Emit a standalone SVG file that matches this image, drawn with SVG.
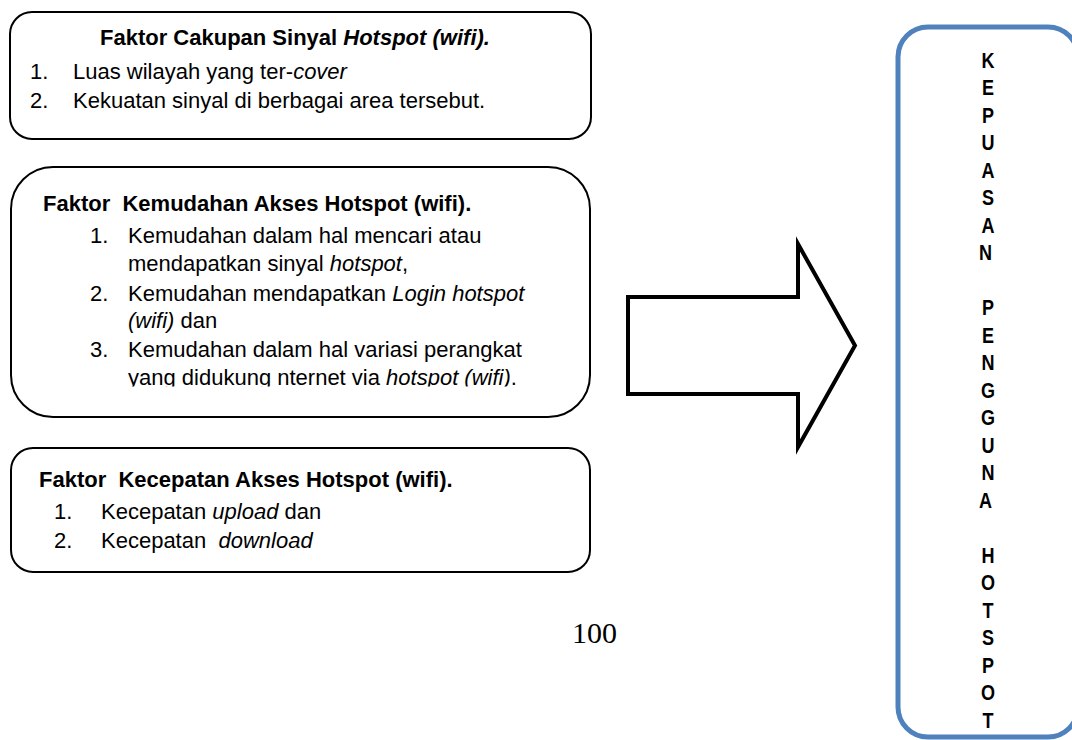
<svg xmlns="http://www.w3.org/2000/svg" width="1072" height="740" viewBox="0 0 1072 740">
<style>
.box{fill:#fff;stroke:#000;stroke-width:2}
.t{font-family:"Liberation Sans",Arial,sans-serif;font-size:22px;fill:#000;white-space:pre}
.b{font-weight:bold}
.i{font-style:italic}
.v{font-family:"Liberation Sans",Arial,sans-serif;font-size:22px;font-weight:bold;fill:#000;text-anchor:middle}
.num{font-family:"Liberation Serif","Times New Roman",serif;font-size:30px;fill:#000}
</style>
<defs>
<clipPath id="cut"><rect x="0" y="0" width="1072" height="386.5"/></clipPath>
</defs>
<rect width="1072" height="740" fill="#fff"/>

<g id="node-cakupan">
<rect class="box" x="10" y="12" width="581" height="127" rx="22"/>
<text class="t b" x="100" y="45">Faktor Cakupan Sinyal <tspan class="i">Hotspot (wifi).</tspan></text>
<text class="t" x="30" y="79">1.</text>
<text class="t" x="73" y="79">Luas wilayah yang ter-<tspan class="i">cover</tspan></text>
<text class="t" x="30" y="108">2.</text>
<text class="t" x="73" y="108">Kekuatan sinyal di berbagai area tersebut.</text>
</g>

<g id="node-kemudahan">
<rect class="box" x="11" y="167" width="579" height="250" rx="42"/>
<text class="t b" x="43" y="211">Faktor  Kemudahan Akses Hotspot (wifi).</text>
<text class="t" x="90" y="243">1.</text>
<text class="t" x="128" y="243">Kemudahan dalam hal mencari atau</text>
<text class="t" x="128" y="271">mendapatkan sinyal <tspan class="i">hotspot</tspan>,</text>
<text class="t" x="90" y="301">2.</text>
<text class="t" x="128" y="301">Kemudahan mendapatkan <tspan class="i">Login hotspot</tspan></text>
<text class="t" x="128" y="328"><tspan class="i">(wifi)</tspan> dan</text>
<text class="t" x="90" y="357">3.</text>
<text class="t" x="128" y="357">Kemudahan dalam hal variasi perangkat</text>
<text class="t" x="128" y="385" clip-path="url(#cut)">yang didukung nternet via <tspan class="i">hotspot (wifi)</tspan>.</text>
</g>

<g id="node-kecepatan">
<rect class="box" x="11" y="448" width="579" height="124" rx="22"/>
<text class="t b" x="39" y="487">Faktor  Kecepatan Akses Hotspot (wifi).</text>
<text class="t" x="54" y="519">1.</text>
<text class="t" x="101" y="519">Kecepatan <tspan class="i">upload</tspan> dan</text>
<text class="t" x="54" y="548">2.</text>
<text class="t" x="101" y="548">Kecepatan  <tspan class="i">download</tspan></text>
</g>

<g id="node-kepuasan">
<rect x="898" y="27" width="180" height="710" rx="30" fill="#fff" stroke="#4f81bd" stroke-width="5"/>
<text class="v" transform="translate(988,0) scale(0.82,1)">
<tspan x="0" y="68">K</tspan><tspan x="0" y="95.5">E</tspan><tspan x="0" y="123">P</tspan><tspan x="0" y="150.5">U</tspan><tspan x="0" y="178">A</tspan><tspan x="0" y="205.5">S</tspan><tspan x="0" y="233">A</tspan><tspan x="0" y="260.5">N</tspan>
<tspan x="0" y="315.5">P</tspan><tspan x="0" y="343">E</tspan><tspan x="0" y="370.5">N</tspan><tspan x="0" y="398">G</tspan><tspan x="0" y="425.5">G</tspan><tspan x="0" y="453">U</tspan><tspan x="0" y="480.5">N</tspan><tspan x="0" y="508">A</tspan>
<tspan x="0" y="563">H</tspan><tspan x="0" y="590.5">O</tspan><tspan x="0" y="618">T</tspan><tspan x="0" y="645.5">S</tspan><tspan x="0" y="673">P</tspan><tspan x="0" y="700.5">O</tspan><tspan x="0" y="728">T</tspan>
</text>
</g>

<g id="connectors">
<polygon points="628,297 798,297 798,244 855,345.5 798,447 798,394 628,394" fill="#fff" stroke="#000" stroke-width="4" stroke-linejoin="miter"/>
</g>

<g id="page-number">
<text class="num" x="594.5" y="643" text-anchor="middle">100</text>
</g>
</svg>
